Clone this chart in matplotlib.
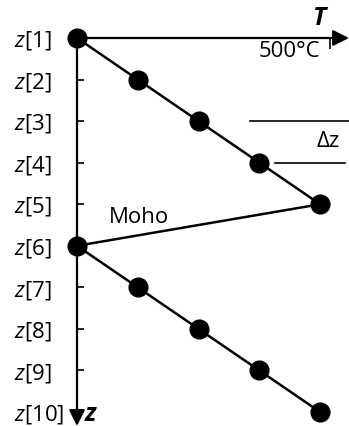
import matplotlib.pyplot as plt

plt.rcParams['font.family'] = ['Open Sans', 'DejaVu Sans']
plt.rcParams['mathtext.fontset'] = 'custom'
plt.rcParams['mathtext.it'] = 'Open Sans:italic'
plt.rcParams['mathtext.rm'] = 'Open Sans'

# temperature profile, grid index 1..10
depth = [1, 2, 3, 4, 5, 6, 7, 8, 9, 10]
temp = [0, 120, 240, 360, 480, 0, 120, 240, 360, 480]
tick_labels = [f"$z$[{i}]" for i in depth]
t_tick = 500
moho_pos = (123, 5.31)
dz_rows = (3, 4)

fig = plt.figure(figsize=(3.49, 4.26), dpi=100)
ax = fig.add_axes([0, 0, 1, 1])
ax.set_xlim(-152, 537)
ax.set_ylim(10.336, 0.0857)

for s in ax.spines.values():
    s.set_visible(False)
ax.spines['left'].set_position(('data', 0))
ax.spines['top'].set_position(('data', 1))

ax.set_yticks(depth)
ax.set_yticklabels(tick_labels, fontsize=16, ha='left')
ax.tick_params(axis='y', direction='in', length=5, width=1.2, pad=45)

ax.xaxis.set_ticks_position('top')
ax.set_xticks([t_tick])
ax.set_xticklabels([])
ax.tick_params(axis='x', direction='in', length=8, width=1.2)
ax.annotate(f"{t_tick}°C", xy=(t_tick, 1), xytext=(-7, -2), textcoords='offset points',
            ha='right', va='top', fontsize=16)

# axes arrows
arrow = dict(arrowstyle='-|>', lw=1.6, color='black', mutation_scale=24, shrinkA=0, shrinkB=0)
ax.annotate('', xy=(537, 1), xytext=(0, 1), arrowprops=arrow)
ax.annotate('', xy=(0, 10.336), xytext=(0, 1), arrowprops=arrow)
ax.text(478, 0.52, 'T', style='italic', fontweight='bold', fontsize=18, ha='center', va='center')
ax.text(26, 10.05, 'z', style='italic', fontweight='bold', fontsize=18, ha='center', va='center')

ax.plot(temp, depth, color='black', lw=1.8, marker='o', markersize=13.5, zorder=3, clip_on=False)

ax.text(moho_pos[0], moho_pos[1], 'Moho', fontsize=16, ha='center', va='center')

# delta z indicator
ax.plot([342, 537], [dz_rows[0]] * 2, color='black', lw=1.2)
ax.plot([391, 530], [dz_rows[1]] * 2, color='black', lw=1.2)
ax.text(496, sum(dz_rows) / 2, 'Δz', fontsize=16, ha='center', va='center')

fig.savefig('out.png', dpi=100)
